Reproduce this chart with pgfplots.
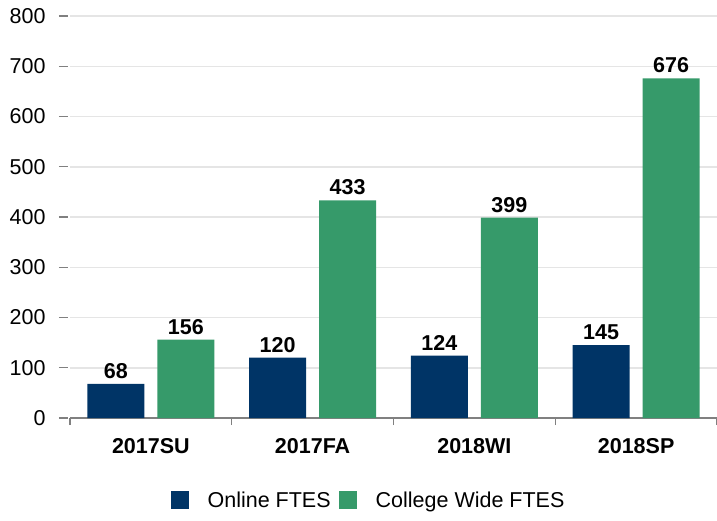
\documentclass[border=0pt]{standalone}
\usepackage{pgfplots}
\pgfplotsset{compat=1.18}
\usepackage{fontspec}
\setmainfont{Liberation Sans}
\definecolor{navy}{RGB}{0,52,102}
\definecolor{grn}{RGB}{54,154,106}
\definecolor{gridc}{RGB}{229,229,229}
\definecolor{axc}{RGB}{128,128,128}
\newcommand{\cf}{\fontsize{21.5}{25}\selectfont}
\begin{document}
\begin{tikzpicture}[font=\cf]
\begin{axis}[
  at={(0,0)}, anchor=south west,
  scale only axis, width=647pt, height=402pt,
  xmin=-0.5, xmax=3.5, ymin=0, ymax=800,
  ybar, bar width=57pt,
  axis x line*=bottom, axis y line*=left,
  y axis line style={draw=none},
  x axis line style={draw=axc, line width=1.5pt, -},
  ytick={0,100,...,800},
  xtick={0,1,2,3}, xticklabels={2017SU,2017FA,2018WI,2018SP},
  minor xtick={-0.5,0.5,1.5,2.5,3.5},
  tick align=outside,
  major tick length=9pt, minor tick length=7pt,
  major x tick style={draw=none},
  minor x tick style={draw=axc, line width=1.2pt},
  ytick style={draw=axc, line width=1.2pt, xshift=-2pt},
  ymajorgrids, grid style={draw=gridc, line width=1.5pt},
  /pgf/number format/assume math mode=true,
  yticklabel style={font=\cf, xshift=-12pt},
  xticklabel style={font=\cf\bfseries, yshift=-8pt},
  nodes near coords,
  every node near coord/.append style={font=\cf\bfseries, text=black, inner sep=2pt, yshift=3pt},
  legend columns=2,
  legend style={at={(axis description cs:0.4614,-0.204)}, anchor=center, draw=none, fill=none,
    /tikz/every even column/.append style={column sep=6pt},
    font=\cf},
  legend image code/.code={\fill[#1, draw=none] (0pt,-9pt) rectangle (18pt,9pt);},
]
\addplot[fill=navy, draw=none, bar shift=-35pt] coordinates {(0,68) (1,120) (2,124) (3,145)};
\addplot[fill=grn, draw=none, bar shift=35pt] coordinates {(0,156) (1,433) (2,399) (3,676)};
\legend{\hspace{17pt}Online FTES, \hspace{17pt}College Wide FTES}
\end{axis}
\pgfresetboundingbox
\path[use as bounding box] (-70pt,-102pt) rectangle (647pt,418pt);
\end{tikzpicture}
\end{document}
